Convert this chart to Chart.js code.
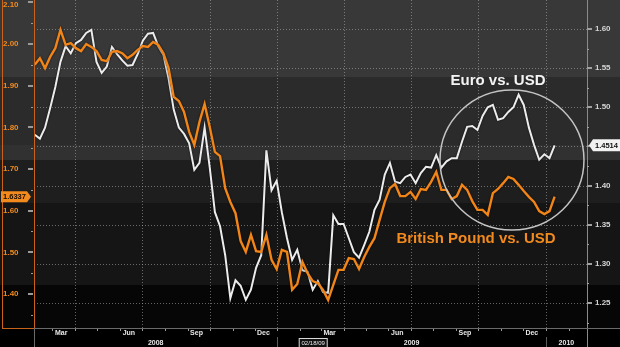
<!DOCTYPE html>
<html>
<head>
<meta charset="utf-8">
<script src="https://cdn.jsdelivr.net/npm/chart.js@4.4.0/dist/chart.umd.min.js"></script>
<style>
  html, body { margin: 0; padding: 0; background: #000; }
  #wrap { width: 620px; height: 347px; }
</style>
</head>
<body>
<div id="wrap"><canvas id="fx" width="620" height="347"></canvas></div>
<script>
// weekly closes, first one on START_DATE
const START_DATE = "2008-02-06";
const STEP_DAYS = 7;

const gbpUsd = [
  1.950, 1.966, 1.942, 1.969, 1.990, 2.034, 1.998, 2.002, 1.990, 1.983,
  2.000, 1.993, 1.983, 1.962, 1.959, 1.981, 1.983, 1.978, 1.966, 1.974,
  1.986, 1.995, 1.993, 2.005, 1.998, 1.978, 1.942, 1.873, 1.863, 1.837,
  1.789, 1.758, 1.813, 1.856, 1.801, 1.741, 1.731, 1.654, 1.621, 1.594,
  1.527, 1.501, 1.542, 1.503, 1.501, 1.542, 1.482, 1.460, 1.506, 1.501,
  1.410, 1.424, 1.477, 1.450, 1.431, 1.426, 1.410, 1.386, 1.422, 1.458,
  1.458, 1.486, 1.484, 1.460, 1.489, 1.513, 1.534, 1.578, 1.621, 1.654,
  1.664, 1.635, 1.635, 1.645, 1.628, 1.652, 1.650, 1.669, 1.693, 1.650,
  1.650, 1.628, 1.635, 1.662, 1.650, 1.623, 1.602, 1.602, 1.590, 1.642,
  1.652, 1.666, 1.681, 1.676, 1.662, 1.647, 1.633, 1.621, 1.599, 1.592,
  1.599, 1.6337
];

const eurUsd = [
  1.465, 1.460, 1.474, 1.499, 1.526, 1.558, 1.578, 1.569, 1.582, 1.586,
  1.595, 1.599, 1.558, 1.544, 1.552, 1.577, 1.568, 1.560, 1.553, 1.554,
  1.568, 1.585, 1.594, 1.595, 1.578, 1.567, 1.537, 1.497, 1.474, 1.466,
  1.454, 1.420, 1.429, 1.474, 1.423, 1.366, 1.348, 1.311, 1.256, 1.279,
  1.272, 1.254, 1.267, 1.295, 1.311, 1.445, 1.394, 1.406, 1.366, 1.333,
  1.305, 1.318, 1.292, 1.290, 1.267, 1.278, 1.264, 1.263, 1.362, 1.351,
  1.351, 1.333, 1.315, 1.308, 1.324, 1.341, 1.369, 1.382, 1.414, 1.429,
  1.405, 1.403, 1.411, 1.414, 1.403, 1.416, 1.424, 1.423, 1.439, 1.423,
  1.431, 1.435, 1.435, 1.456, 1.475, 1.476, 1.471, 1.489, 1.500, 1.503,
  1.484, 1.486, 1.494, 1.500, 1.516, 1.503, 1.474, 1.452, 1.433, 1.440,
  1.435, 1.4514
];

const gbpTicks = [1.40, 1.50, 1.60, 1.70, 1.80, 1.90, 2.00, 2.10];
const eurTicks = [1.25, 1.30, 1.35, 1.40, 1.45, 1.50, 1.55, 1.60];

const quarterLines = ["2008-04-01", "2008-07-01", "2008-10-01", "2009-01-01",
                      "2009-04-01", "2009-07-01", "2009-10-01", "2010-01-01"];
const monthLabels = ["Mar", "Jun", "Sep", "Dec", "Mar", "Jun", "Sep", "Dec"];
const monthLabelDates = ["2008-03-13", "2008-06-13", "2008-09-13", "2008-12-13",
                         "2009-03-13", "2009-06-13", "2009-09-13", "2009-12-13"];
const yearLabels = ["2008", "2009", "2010"];
const yearStarts = ["2009-01-01", "2010-01-01"];
const cursorDate = "2009-02-18";
const cursorText = "02/18/09";

const X_MIN = "2008-02-05";
const X_MAX = "2010-02-26";

const ORANGE = "#f28a1e";
const FONT = '"Liberation Sans", Arial, sans-serif';

function dayNum(s) {
  const [y, m, d] = s.split("-").map(Number);
  return (Date.UTC(y, m - 1, d) - Date.UTC(2008, 0, 1)) / 86400000;
}

function toPoints(vals) {
  const d0 = dayNum(START_DATE);
  return vals.map((v, i) => ({ x: d0 + i * STEP_DAYS, y: v }));
}

// -------------------------
// FRAME: bands, grid, axes, tags, notes
// -------------------------
const frame = {
  id: "frame",
  beforeDraw(chart) {
    const ctx = chart.ctx;
    const a = chart.chartArea;
    const W = chart.width, H = chart.height;

    ctx.save();
    ctx.fillStyle = "#000";
    ctx.fillRect(0, 0, W, H);

    // shaded horizontal bands behind the plot
    const bands = [
      [0, 77, "#383838"],
      [77, 145, "#2b2b2b"],
      [145, 160, "#313131"],
      [160, 203, "#1e1e1e"],
      [203, 285, "#151515"],
      [285, a.bottom, "#060606"]
    ];
    bands.forEach(b => {
      ctx.fillStyle = b[2];
      ctx.fillRect(0, b[0], W, b[1] - b[0]);
    });

    const x = chart.scales.x, eur = chart.scales.eur;

    ctx.strokeStyle = "rgba(175,175,175,0.55)";
    ctx.lineWidth = 1;
    ctx.setLineDash([1, 2]);
    eurTicks.forEach(t => {
      const y = Math.round(eur.getPixelForValue(t)) + 0.5;
      ctx.beginPath();
      ctx.moveTo(a.left, y);
      ctx.lineTo(a.right, y);
      ctx.stroke();
    });
    quarterLines.forEach(d => {
      const px = Math.round(x.getPixelForValue(dayNum(d))) + 0.5;
      ctx.beginPath();
      ctx.moveTo(px, a.top);
      ctx.lineTo(px, a.bottom);
      ctx.stroke();
    });
    ctx.restore();
  },

  // soft dark edge on both lines
  beforeDatasetsDraw(chart) {
    const ctx = chart.ctx;
    ctx.save();
    ctx.shadowColor = "rgba(0,0,0,0.75)";
    ctx.shadowBlur = 2;
  },

  afterDatasetsDraw(chart) {
    const ctx = chart.ctx;
    ctx.restore();

    const a = chart.chartArea;
    const W = chart.width, H = chart.height;
    const x = chart.scales.x, gbp = chart.scales.gbp, eur = chart.scales.eur;

    ctx.save();

    // left axis (GBP) box
    ctx.strokeStyle = "#c8641a";
    ctx.lineWidth = 1;
    ctx.strokeRect(2.5, -1, a.left - 2, a.bottom + 1.5);

    ctx.fillStyle = "#9a9a9a";
    gbpTicks.forEach(t => {
      const y = Math.round(gbp.getPixelForValue(t));
      ctx.fillRect(a.left - 6, y - 1, 5, 2);
      const ym = Math.round(gbp.getPixelForValue(t - 0.05));
      if (ym < a.bottom) ctx.fillRect(a.left - 3, ym, 2, 1);
    });
    ctx.fillStyle = ORANGE;
    ctx.font = "bold 8px " + FONT;
    ctx.textAlign = "left";
    ctx.textBaseline = "middle";
    gbpTicks.forEach(t => {
      const y = gbp.getPixelForValue(t);
      ctx.fillText(t.toFixed(2), 3, Math.max(y, 5));
    });

    // right axis (EUR)
    ctx.strokeStyle = "#8a8a8a";
    ctx.beginPath();
    ctx.moveTo(a.right + 0.5, 0);
    ctx.lineTo(a.right + 0.5, H);
    ctx.stroke();
    ctx.fillStyle = "#a0a0a0";
    eurTicks.forEach(t => {
      const y = Math.round(eur.getPixelForValue(t));
      ctx.fillRect(a.right, y - 1, 5, 2);
      const ym = Math.round(eur.getPixelForValue(t - 0.025));
      if (ym < a.bottom) ctx.fillRect(a.right, ym, 2, 1);
    });
    ctx.fillStyle = "#d4d4d4";
    eurTicks.forEach(t => {
      ctx.fillText(t.toFixed(2), a.right + 8, eur.getPixelForValue(t));
    });

    // bottom axis
    ctx.strokeStyle = "#6a6a6a";
    ctx.beginPath();
    ctx.moveTo(a.left, a.bottom + 0.5);
    ctx.lineTo(W, a.bottom + 0.5);
    ctx.moveTo(a.left + 0.5, a.bottom);
    ctx.lineTo(a.left + 0.5, H);
    ctx.stroke();

    ctx.fillStyle = "#9a9a9a";
    for (let yr = 2008; yr <= 2010; yr++) {
      for (let m = 1; m <= 12; m++) {
        const d = dayNum(yr + "-" + String(m).padStart(2, "0") + "-01");
        if (d < x.min || d > x.max) continue;
        ctx.fillRect(Math.round(x.getPixelForValue(d)), a.bottom + 1, 1, 2);
      }
    }

    ctx.fillStyle = "#e8e8e8";
    ctx.font = "bold 7px " + FONT;
    ctx.textAlign = "center";
    monthLabels.forEach((lab, i) => {
      ctx.fillText(lab, x.getPixelForValue(dayNum(monthLabelDates[i])), a.bottom + 5.5);
    });

    const bounds = [a.left].concat(yearStarts.map(d => x.getPixelForValue(dayNum(d))), [a.right]);
    ctx.strokeStyle = "#5a5a5a";
    yearStarts.forEach(d => {
      const px = Math.round(x.getPixelForValue(dayNum(d))) + 0.5;
      ctx.beginPath();
      ctx.moveTo(px, a.bottom + 9);
      ctx.lineTo(px, H);
      ctx.stroke();
    });
    yearLabels.forEach((lab, i) => {
      ctx.fillText(lab, (bounds[i] + bounds[i + 1]) / 2, a.bottom + 15);
    });

    // cursor date box
    const cx = x.getPixelForValue(dayNum(cursorDate));
    ctx.fillStyle = "#111";
    ctx.fillRect(cx - 14, a.bottom + 10, 29, 9);
    ctx.strokeStyle = "#d8d8d8";
    ctx.strokeRect(cx - 13.5, a.bottom + 10.5, 28, 9);
    ctx.fillStyle = "#e8e8e8";
    ctx.font = "6px " + FONT;
    ctx.fillText(cursorText, cx + 0.5, a.bottom + 15.5);

    // last-value tags
    const lastG = gbpUsd[gbpUsd.length - 1];
    const gy = gbp.getPixelForValue(lastG);
    ctx.fillStyle = ORANGE;
    ctx.beginPath();
    ctx.moveTo(1, gy - 5.5);
    ctx.lineTo(27, gy - 5.5);
    ctx.lineTo(31, gy);
    ctx.lineTo(27, gy + 5.5);
    ctx.lineTo(1, gy + 5.5);
    ctx.closePath();
    ctx.fill();
    ctx.fillStyle = "#1a0d00";
    ctx.font = "bold 7.5px " + FONT;
    ctx.textAlign = "left";
    ctx.fillText(lastG.toFixed(4), 3, gy + 0.5);

    const lastE = eurUsd[eurUsd.length - 1];
    const ey = eur.getPixelForValue(lastE);
    ctx.fillStyle = "#f2f2f2";
    ctx.beginPath();
    ctx.moveTo(a.right + 2, ey);
    ctx.lineTo(a.right + 6, ey - 6);
    ctx.lineTo(W, ey - 6);
    ctx.lineTo(W, ey + 6);
    ctx.lineTo(a.right + 6, ey + 6);
    ctx.closePath();
    ctx.fill();
    ctx.fillStyle = "#111";
    ctx.fillText(lastE.toFixed(4), a.right + 8, ey + 0.5);

    // ring around the autumn 2009 divergence
    const ex = x.getPixelForValue(dayNum("2009-11-16"));
    const eyc = eur.getPixelForValue(1.4327);
    ctx.strokeStyle = "#c4c4c4";
    ctx.lineWidth = 1.5;
    ctx.beginPath();
    ctx.ellipse(ex, eyc, 72, 70, 0, 0, Math.PI * 2);
    ctx.stroke();

    ctx.font = "bold 15px " + FONT;
    ctx.textAlign = "center";
    ctx.textBaseline = "middle";
    ctx.fillStyle = "#f4f4f4";
    ctx.fillText("Euro vs. USD", 498, 81);
    ctx.fillStyle = ORANGE;
    ctx.fillText("British Pound vs. USD", 476, 239);

    ctx.restore();
  }
};

const chart = new Chart(document.getElementById("fx"), {
  type: "line",
  data: {
    datasets: [{
      label: "British Pound vs. USD",
      data: toPoints(gbpUsd),
      yAxisID: "gbp",
      borderColor: "#f28518",
      borderWidth: 2.4
    }, {
      label: "Euro vs. USD",
      data: toPoints(eurUsd),
      yAxisID: "eur",
      borderColor: "#ececec",
      borderWidth: 2
    }]
  },
  options: {
    responsive: false,
    animation: false,
    devicePixelRatio: 1,
    events: [],
    layout: { padding: { left: 34, right: 33, top: 0, bottom: 19 } },
    elements: { point: { radius: 0 }, line: { tension: 0 } },
    plugins: { legend: { display: false }, tooltip: { enabled: false } },
    scales: {
      x: { type: "linear", display: false, min: dayNum(X_MIN), max: dayNum(X_MAX) },
      gbp: { type: "linear", display: false, position: "left", min: 1.3184, max: 2.1056 },
      eur: { type: "linear", display: false, position: "right", min: 1.21806, max: 1.63704 }
    }
  },
  plugins: [frame]
});
</script>
</body>
</html>
